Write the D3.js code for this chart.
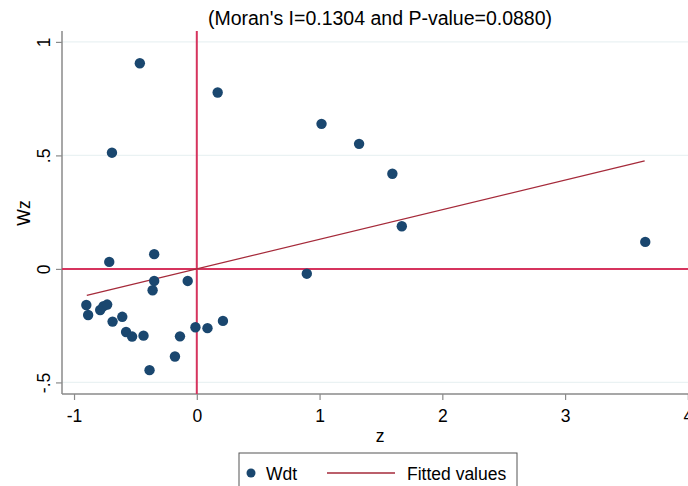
<!DOCTYPE html>
<html>
<head>
<meta charset="utf-8">
<script src="https://cdn.jsdelivr.net/npm/d3@7"></script>
<style>
  body { margin: 0; background: #fff; }
  svg { display: block; font-family: "Liberation Sans", Arial, sans-serif; }
</style>
</head>
<body>
<div id="chart"></div>
<script>
"use strict";
// z (standardized value) and Wz (spatial lag)
var zVals = [-0.713, -0.347, -0.347, -0.360, -0.074, -0.900, -0.885, -0.787, -0.760, -0.730,
             -0.686, -0.607, -0.576, -0.527, -0.434, -0.137, -0.178, -0.385, -0.011, 0.087,
              0.213, -0.464, -0.691, 0.170, 1.016, 1.322, 1.593, 1.670, 3.653, 0.896];
var wzVals = [0.031, 0.065, -0.053, -0.094, -0.053, -0.159, -0.203, -0.181, -0.164, -0.157,
             -0.232, -0.211, -0.278, -0.298, -0.294, -0.297, -0.386, -0.446, -0.257, -0.261,
             -0.229, 0.906, 0.512, 0.777, 0.639, 0.551, 0.419, 0.188, 0.119, -0.021];
// fitted line end points
var fitZ = [-0.896, 3.648];
var fitWz = [-0.117, 0.476];
var xTicks = [-1, 0, 1, 2, 3, 4];
var yTicks = [-0.5, 0, 0.5, 1];
var yTickLabels = ["-.5", "0", ".5", "1"];
var title = "(Moran's I=0.1304 and P-value=0.0880)";
var legendLabels = ["Wdt", "Fitted values"];

var width = 688, height = 486;
var margin = { top: 31, right: -6, bottom: 92, left: 62 };
var innerW = width - margin.left - margin.right;
var innerH = height - margin.top - margin.bottom;

var x = d3.scaleLinear().domain([-1.098, 4.05]).range([0, innerW]);
var y = d3.scaleLinear().domain([-0.551, 1.048]).range([innerH, 0]);

var svg = d3.select("#chart").append("svg")
    .attr("width", width)
    .attr("height", height);

svg.append("text")
    .attr("x", 380)
    .attr("y", 25)
    .attr("text-anchor", "middle")
    .style("font-size", "19.5px")
    .attr("fill", "#000")
    .text(title);

var g = svg.append("g")
    .attr("transform", "translate(" + margin.left + "," + margin.top + ")");

// gridlines
g.selectAll("line.grid")
    .data(yTicks)
    .enter()
    .append("line")
    .attr("class", "grid")
    .attr("x1", 0)
    .attr("x2", innerW)
    .attr("y1", function (d) { return y(d); })
    .attr("y2", function (d) { return y(d); })
    .attr("stroke", "#eaf2f3")
    .attr("stroke-width", 1.2);

// axes
var yAxis = g.append("g")
    .call(d3.axisLeft(y).tickValues(yTicks)
        .tickFormat(function (d, i) { return yTickLabels[i]; })
        .tickSize(6).tickPadding(4));
yAxis.select(".domain").attr("stroke", "#8a8a8a").attr("stroke-width", 1.5)
    .attr("d", "M0," + innerH + "V0");
yAxis.selectAll(".tick line").attr("stroke", "#8a8a8a").attr("stroke-width", 1.2);
yAxis.selectAll(".tick text")
    .attr("transform", "rotate(-90)")
    .attr("x", 0)
    .attr("y", -12)
    .attr("dy", "0")
    .attr("text-anchor", "middle")
    .style("font-size", "17.5px")
    .attr("fill", "#000");

var xAxis = g.append("g")
    .attr("transform", "translate(0," + innerH + ")")
    .call(d3.axisBottom(x).tickValues(xTicks)
        .tickFormat(function (d) { return String(d); })
        .tickSize(6).tickPadding(10));
xAxis.select(".domain").attr("stroke", "#8a8a8a").attr("stroke-width", 1.5)
    .attr("d", "M0,0H" + innerW);
xAxis.selectAll(".tick line").attr("stroke", "#8a8a8a").attr("stroke-width", 1.2);
xAxis.selectAll(".tick text")
    .style("font-size", "17.5px")
    .attr("fill", "#000");

// reference lines at zero
g.append("line")
    .attr("x1", 0).attr("x2", innerW)
    .attr("y1", y(0)).attr("y2", y(0))
    .attr("stroke", "#d6345e").attr("stroke-width", 2);
g.append("line")
    .attr("x1", x(0)).attr("x2", x(0))
    .attr("y1", 0).attr("y2", innerH)
    .attr("stroke", "#d6345e").attr("stroke-width", 2);

// fitted line
g.append("line")
    .attr("x1", x(fitZ[0])).attr("y1", y(fitWz[0]))
    .attr("x2", x(fitZ[1])).attr("y2", y(fitWz[1]))
    .attr("stroke", "#a52a3a").attr("stroke-width", 1.3);

// points
g.selectAll("circle.pt")
    .data(zVals)
    .enter()
    .append("circle")
    .attr("class", "pt")
    .attr("cx", function (d) { return x(d); })
    .attr("cy", function (d, i) { return y(wzVals[i]); })
    .attr("r", 5.2)
    .attr("fill", "#1a476f");

// axis titles
svg.append("text")
    .attr("transform", "translate(30,213) rotate(-90)")
    .attr("text-anchor", "middle")
    .style("font-size", "17.5px")
    .text("Wz");
svg.append("text")
    .attr("x", 380)
    .attr("y", 442)
    .attr("text-anchor", "middle")
    .style("font-size", "17.5px")
    .text("z");

// legend
var lg = svg.append("g").attr("transform", "translate(239,453)");
lg.append("rect")
    .attr("x", 0).attr("y", 0)
    .attr("width", 278).attr("height", 42)
    .attr("fill", "#fff")
    .attr("stroke", "#555").attr("stroke-width", 1);
lg.append("circle").attr("cx", 12).attr("cy", 20).attr("r", 4.5).attr("fill", "#1a476f");
lg.append("text").attr("x", 27).attr("y", 27).style("font-size", "17.5px").text(legendLabels[0]);
lg.append("line").attr("x1", 88).attr("x2", 156).attr("y1", 20).attr("y2", 20)
    .attr("stroke", "#a52a3a").attr("stroke-width", 1.3);
lg.append("text").attr("x", 168).attr("y", 27).style("font-size", "17.5px").text(legendLabels[1]);
</script>
</body>
</html>
